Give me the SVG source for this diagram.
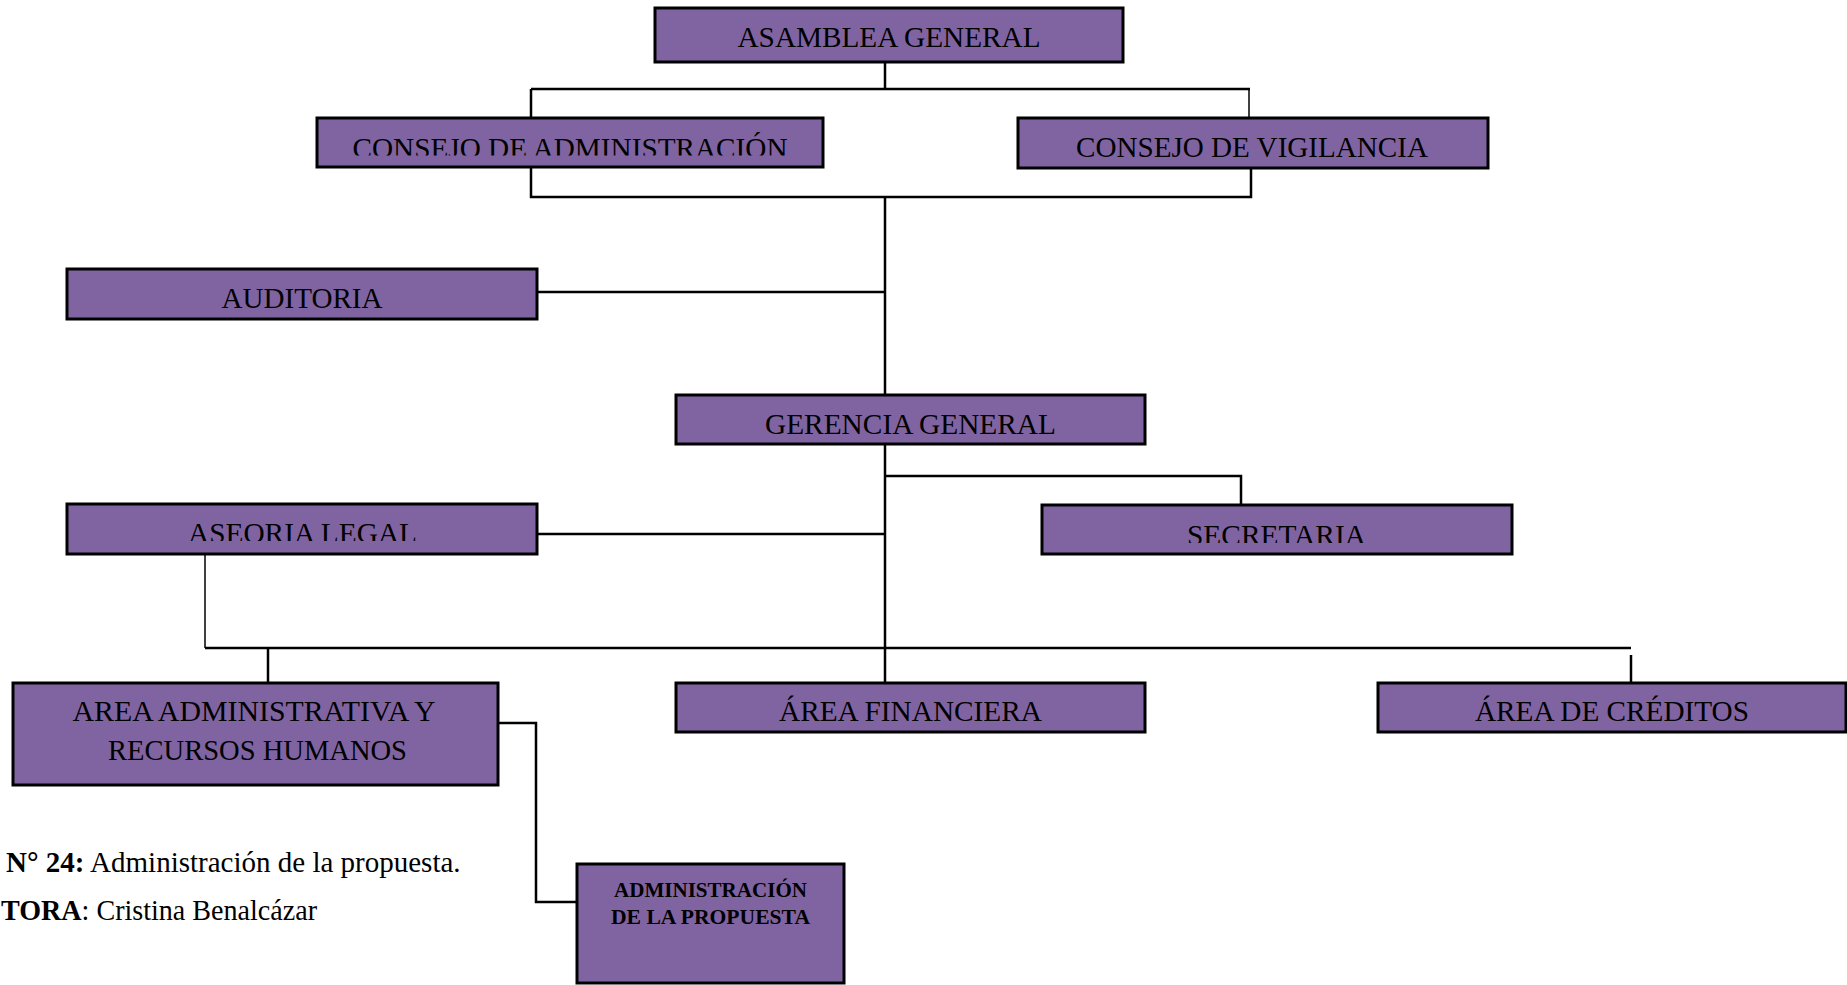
<svg xmlns="http://www.w3.org/2000/svg" width="1847" height="985" viewBox="0 0 1847 985">
  <style>
    .box { fill: #8064a2; stroke: #000; stroke-width: 3; }
    .lbl { font-family: "Liberation Serif", "Times New Roman", serif; font-size: 29px; fill: #000; text-anchor: middle; }
    .lbl-sm { font-family: "Liberation Serif", "Times New Roman", serif; font-size: 21px; font-weight: bold; fill: #000; text-anchor: middle; }
    .cap { font-family: "Liberation Serif", "Times New Roman", serif; font-size: 29px; fill: #000; }
    .ln { fill: none; stroke: #000; stroke-width: 2.5; }
    .ln-thin { fill: none; stroke: #000; stroke-width: 1.5; }
  </style>
  <defs>
    <clipPath id="clip-consejo-adm"><rect x="317" y="118" width="506" height="37.5"/></clipPath>
    <clipPath id="clip-aseoria"><rect x="67" y="504" width="470" height="37"/></clipPath>
    <clipPath id="clip-secretaria"><rect x="1042" y="505" width="470" height="38"/></clipPath>
  </defs>
  <rect width="1847" height="985" fill="#fff"/>

  <!-- connectors -->
  <g id="connectors">
    <path class="ln" d="M885 62 V89"/>
    <path class="ln" d="M531 89 H1250"/>
    <path class="ln" d="M531 89 V118"/>
    <path class="ln-thin" d="M1249 89 V118"/>
    <path class="ln" d="M531 167 V197 H1251 V168"/>
    <path class="ln" d="M885 197 V395"/>
    <path class="ln" d="M537 292 H885"/>
    <path class="ln" d="M885 444 V683"/>
    <path class="ln" d="M885 476 H1241 V505"/>
    <path class="ln" d="M537 534 H885"/>
    <path class="ln-thin" d="M205 554 V648"/>
    <path class="ln" d="M205 648 H1631"/>
    <path class="ln" d="M268 648 V683"/>
    <path class="ln" d="M1631 655 V683"/>
    <path class="ln" d="M498 723 H536 V902 H577"/>
  </g>

  <g id="asamblea-general">
    <rect class="box" x="655" y="8" width="468" height="54"/>
    <text class="lbl" x="889" y="47" textLength="303" lengthAdjust="spacingAndGlyphs">ASAMBLEA GENERAL</text>
  </g>

  <g id="consejo-administracion">
    <rect class="box" x="317" y="118" width="506" height="49"/>
    <text class="lbl" x="570" y="158" font-size="27.5" textLength="435" lengthAdjust="spacingAndGlyphs" clip-path="url(#clip-consejo-adm)">CONSEJO DE ADMINISTRACIÓN</text>
  </g>

  <g id="consejo-vigilancia">
    <rect class="box" x="1018" y="118" width="470" height="50"/>
    <text class="lbl" x="1252" y="157" textLength="352" lengthAdjust="spacingAndGlyphs">CONSEJO DE VIGILANCIA</text>
  </g>

  <g id="auditoria">
    <rect class="box" x="67" y="269" width="470" height="50"/>
    <text class="lbl" x="302" y="308" textLength="161" lengthAdjust="spacingAndGlyphs">AUDITORIA</text>
  </g>

  <g id="gerencia-general">
    <rect class="box" x="676" y="395" width="469" height="49"/>
    <text class="lbl" x="910.5" y="434" textLength="291" lengthAdjust="spacingAndGlyphs">GERENCIA GENERAL</text>
  </g>

  <g id="aseoria-legal">
    <rect class="box" x="67" y="504" width="470" height="50"/>
    <text class="lbl" x="302.5" y="543" textLength="229" lengthAdjust="spacingAndGlyphs" clip-path="url(#clip-aseoria)">ASEORIA LEGAL</text>
  </g>

  <g id="secretaria">
    <rect class="box" x="1042" y="505" width="470" height="49"/>
    <text class="lbl" x="1276.5" y="545" textLength="179" lengthAdjust="spacingAndGlyphs" clip-path="url(#clip-secretaria)">SECRETARIA</text>
  </g>

  <g id="area-administrativa">
    <rect class="box" x="13" y="683" width="485" height="102"/>
    <text class="lbl" x="254" y="721" textLength="363" lengthAdjust="spacingAndGlyphs">AREA ADMINISTRATIVA Y</text>
    <text class="lbl" x="257.5" y="760" textLength="299" lengthAdjust="spacingAndGlyphs">RECURSOS HUMANOS</text>
  </g>

  <g id="area-financiera">
    <rect class="box" x="676" y="683" width="469" height="49"/>
    <text class="lbl" x="910.5" y="721" textLength="263" lengthAdjust="spacingAndGlyphs">ÁREA FINANCIERA</text>
  </g>

  <g id="area-creditos">
    <rect class="box" x="1378" y="683" width="468" height="49"/>
    <text class="lbl" x="1612" y="721" textLength="274" lengthAdjust="spacingAndGlyphs">ÁREA DE CRÉDITOS</text>
  </g>

  <g id="administracion-propuesta">
    <rect class="box" x="577" y="864" width="267" height="119"/>
    <text class="lbl-sm" x="710.5" y="897" textLength="193" lengthAdjust="spacingAndGlyphs">ADMINISTRACIÓN</text>
    <text class="lbl-sm" x="710.5" y="924" textLength="199" lengthAdjust="spacingAndGlyphs">DE LA PROPUESTA</text>
  </g>

  <!-- figure caption and author line -->
  <g id="caption">
    <text class="cap" x="6" y="872"><tspan font-weight="bold">N° 24:</tspan> Administración de la propuesta.</text>
    <text class="cap" x="1" y="920" textLength="316" lengthAdjust="spacingAndGlyphs"><tspan font-weight="bold">TORA</tspan>: Cristina Benalcázar</text>
  </g>
</svg>
